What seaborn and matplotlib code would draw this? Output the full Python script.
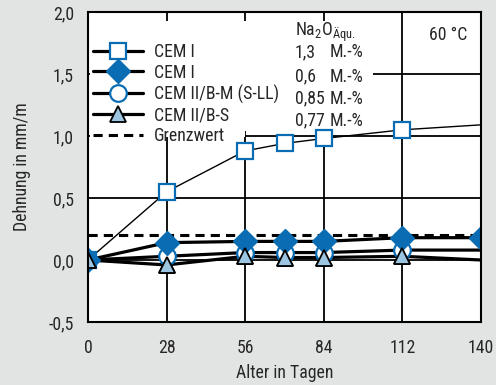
import matplotlib
matplotlib.use("Agg")
import matplotlib.pyplot as plt
import seaborn as sns
import numpy as np
from matplotlib.lines import Line2D
from matplotlib.patches import Rectangle

# ---- data ----
days = [0, 28, 56, 70, 84, 112, 140]
cem1_high = [0.0, 0.55, 0.88, 0.94, 0.98, 1.05, 1.09]
cem1_low = [0.0, 0.14, 0.15, 0.15, 0.15, 0.18, 0.18]
cem2_bm = [0.0, 0.03, 0.06, 0.06, 0.06, 0.08, 0.08]
cem2_bs = [0.0, -0.04, 0.03, 0.02, 0.02, 0.03, 0.0]
grenzwert = 0.2

series_labels = ["CEM I", "CEM I", "CEM II/B-M (S-LL)", "CEM II/B-S"]
limit_label = "Grenzwert"
na2o_values = ["1,3", "0,6", "0,85", "0,77"]
x_ticks = [0, 28, 56, 84, 112, 140]
y_ticks = [-0.5, 0.0, 0.5, 1.0, 1.5, 2.0]
y_tick_labels = ["-0,5", "0,0", "0,5", "1,0", "1,5", "2,0"]

BLUE = "#0a6db3"
LIGHTBLUE = "#9cc5e1"
BG = "#e2e4e3"

sns.set_style("white")
FONT = "Roboto Condensed"
plt.rcParams["font.family"] = [FONT, "DejaVu Sans"]
plt.rcParams["mathtext.fontset"] = "custom"
plt.rcParams["mathtext.rm"] = FONT
plt.rcParams["mathtext.it"] = FONT

fig = plt.figure(figsize=(4.96, 3.85), dpi=100, facecolor=BG)
ax = fig.add_axes([88 / 496, 1 - 322 / 385, 393 / 496, 310 / 385])
ax.set_facecolor("white")

FS = 12.8

# grid
ax.set_xlim(0, 140)
ax.set_ylim(-0.5, 2.0)
ax.set_xticks(x_ticks)
ax.set_yticks(y_ticks)
ax.set_yticklabels(y_tick_labels)
ax.set_axisbelow(True)
ax.grid(True, color="black", linewidth=1.3)

# white boxes covering the grid behind legend and text block
ax.add_patch(Rectangle((0.004, 0.598), 0.396, 0.374, transform=ax.transAxes,
                       facecolor="white", edgecolor="none", zorder=1))
ax.add_patch(Rectangle((0.4, 0.615), 0.325, 0.357, transform=ax.transAxes,
                       facecolor="white", edgecolor="none", zorder=1))

# limit line
ax.axhline(grenzwert, color="black", linestyle=(0, (3, 2)), linewidth=2.2, zorder=2)

# series
sns.lineplot(x=days, y=cem1_high, ax=ax, color="black", linewidth=1.0,
             marker="s", markersize=11, markerfacecolor="white",
             markeredgecolor=BLUE, markeredgewidth=1.6,
             markevery=list(range(6)), zorder=3)
sns.lineplot(x=days, y=cem2_bs, ax=ax, color="black", linewidth=2.3,
             marker="^", markersize=12, markerfacecolor=LIGHTBLUE,
             markeredgecolor="black", markeredgewidth=1.3,
             markevery=list(range(6)), zorder=3)
sns.lineplot(x=days, y=cem2_bm, ax=ax, color="black", linewidth=2.3,
             marker="o", markersize=12, markerfacecolor="white",
             markeredgecolor=BLUE, markeredgewidth=1.6,
             markevery=list(range(6)), zorder=3.5)
sns.lineplot(x=days, y=cem1_low, ax=ax, color="black", linewidth=2.3,
             marker="D", markersize=12, markerfacecolor=BLUE,
             markeredgecolor=BLUE, markeredgewidth=1.0, zorder=4)
# redraw triangles on top of circles
sns.lineplot(x=days[:6], y=cem2_bs[:6], ax=ax, color="black", linewidth=0,
             marker="^", markersize=12, markerfacecolor=LIGHTBLUE,
             markeredgecolor="black", markeredgewidth=1.3, zorder=4.5)

for sp in ax.spines.values():
    sp.set_color("black")
    sp.set_linewidth(1.5)
    sp.set_zorder(5)

ax.tick_params(axis="y", direction="inout", length=8, width=1.2, labelsize=FS, pad=6)
ax.tick_params(axis="x", length=0, labelsize=FS, pad=12)
ax.set_xlabel("Alter in Tagen", fontsize=FS, labelpad=5)
ax.set_ylabel("Dehnung in mm/m", fontsize=FS, labelpad=13)

# legend
handles = [
    Line2D([], [], color="black", lw=2.3, marker="s", ms=11, mfc="white", mec=BLUE, mew=1.6),
    Line2D([], [], color="black", lw=2.3, marker="D", ms=12, mfc=BLUE, mec=BLUE),
    Line2D([], [], color="black", lw=2.3, marker="o", ms=12, mfc="white", mec=BLUE, mew=1.6),
    Line2D([], [], color="black", lw=2.3, marker="^", ms=12, mfc=LIGHTBLUE, mec="black", mew=1.3),
    Line2D([], [], color="black", lw=2.2, linestyle=(0, (3, 2))),
]
leg = ax.legend(handles, series_labels + [limit_label], loc="upper left",
                bbox_to_anchor=(0.0, 0.918), frameon=False, fontsize=FS,
                handlelength=2.8, handletextpad=0.6, labelspacing=0.16,
                borderaxespad=0.0, borderpad=0.3)
leg.set_zorder(6)

# Na2O text block
ax.text(0.527, 0.935, r"Na$_2$O$_{\mathrm{Äqu.}}$", transform=ax.transAxes,
        fontsize=FS, va="center", ha="left", zorder=6)
row_y = [0.871, 0.791, 0.720, 0.649]
for v, yy in zip(na2o_values, row_y):
    ax.text(0.527, yy, v, transform=ax.transAxes, fontsize=FS, va="center", ha="left", zorder=6)
    ax.text(0.616, yy, "M.-%", transform=ax.transAxes, fontsize=FS, va="center", ha="left", zorder=6)

ax.text(0.965, 0.925, "60 °C", transform=ax.transAxes, fontsize=FS,
        va="center", ha="right", zorder=6)

fig.savefig("out.png", dpi=100, facecolor=BG)
